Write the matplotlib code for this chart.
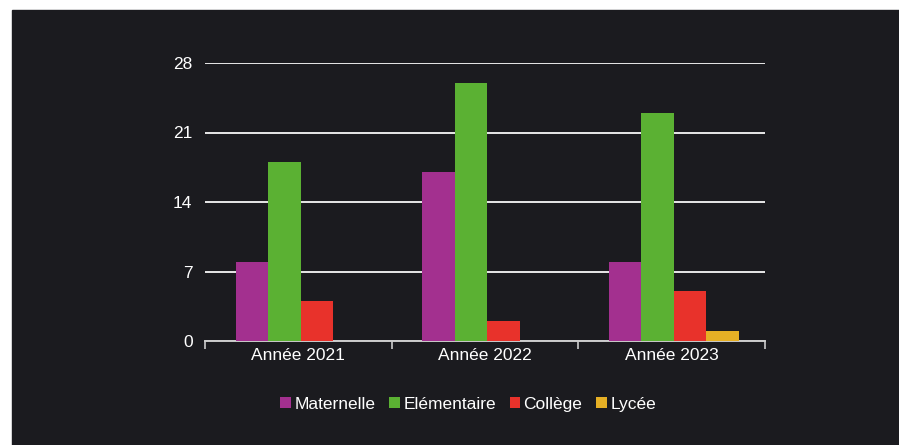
import numpy as np
import matplotlib.pyplot as plt
from matplotlib.patches import Rectangle

# ── Données ────────────────────────────────────────────────────────────────────
annees = ["Année 2021", "Année 2022", "Année 2023"]
maternelle = [8, 17, 8]
elementaire = [18, 26, 23]
college = [4, 2, 5]
lycee = [0, 0, 1]
yticks = [0, 7, 14, 21, 28]

series = [
    ("Maternelle", maternelle, "#a3308f"),
    ("Elémentaire", elementaire, "#5bb133"),
    ("Collège", college, "#e8322b"),
    ("Lycée", lycee, "#e6b025"),
]

BG = "#1b1b1f"
FS = 12.5
plt.rcParams["font.family"] = ["Liberation Sans", "DejaVu Sans"]

fig = plt.figure(figsize=(8.99, 4.45), dpi=100, facecolor="white")
# fond sombre (bande blanche en haut et à gauche comme sur la capture)
fig.patches.append(Rectangle((12 / 899, 0), 1, 1 - 10 / 445,
                             transform=fig.transFigure, color=BG, zorder=-10))

ax = fig.add_axes([205 / 899, 104 / 445, 560 / 899, 278 / 445])
ax.set_facecolor(BG)

x = np.arange(len(annees))
w = 0.174
for i, (nom, vals, col) in enumerate(series):
    ax.bar(x + (i - 1.5) * w + 0.012, vals, width=w, color=col, label=nom, zorder=3)

ax.set_xlim(-0.5, len(annees) - 0.5)
ax.set_ylim(0, 28)
ax.set_yticks(yticks)
ax.yaxis.grid(True, color="#e8e8e8", linewidth=1.4, zorder=1)
ax.set_axisbelow(True)
ax.tick_params(axis="y", length=0, pad=9, labelsize=FS, labelcolor="white")

ax.set_xticks(x)
ax.set_xticklabels(annees, fontsize=FS, color="white")
ax.tick_params(axis="x", length=0, pad=5)
ax.set_xticks(np.arange(-0.5, len(annees)), minor=True)
ax.tick_params(axis="x", which="minor", length=6, color="#cccccc", width=1.2, direction="out")

for s in ["top", "right", "left"]:
    ax.spines[s].set_visible(False)
ax.spines["bottom"].set_color("#cccccc")
ax.spines["bottom"].set_linewidth(1.4)

leg = ax.legend(loc="upper center", bbox_to_anchor=(0.47, -0.145), ncol=4,
                frameon=False, fontsize=FS, handlelength=0.6, handleheight=0.6,
                handletextpad=0.2, columnspacing=0.8, labelcolor="white")

fig.savefig("out.png", dpi=100, facecolor=fig.get_facecolor())
